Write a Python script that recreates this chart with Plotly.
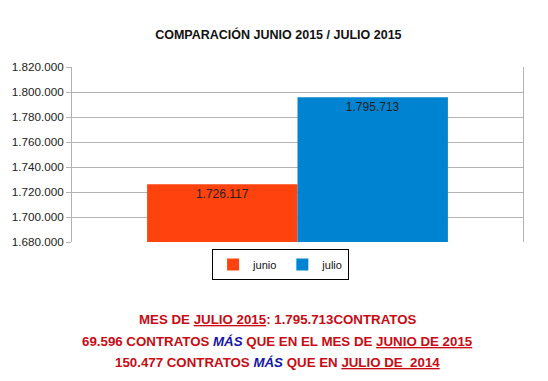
import plotly.graph_objects as go

series_names = ["junio", "julio"]
series_values = [1726117, 1795713]
series_labels = ["1.726.117", "1.795.713"]
series_colors = ["#ff420e", "#0084d1"]
category = [""]
y_ticks = [1680000, 1700000, 1720000, 1740000, 1760000, 1780000, 1800000, 1820000]

title_text = "<b>COMPARACIÓN JUNIO 2015 / JULIO 2015</b>"
red = "#c80a14"
blue = "#1414a8"
footer_lines = [
    "<b>MES DE <u>JULIO 2015</u>: 1.795.713CONTRATOS</b>",
    "<b>69.596 CONTRATOS <i><span style='color:%s'>MÁS</span></i> QUE EN EL MES DE <u>JUNIO DE 2015</u></b>" % blue,
    "<b>150.477 CONTRATOS <i><span style='color:%s'>MÁS</span></i> QUE EN <u>JULIO DE  2014</u></b>" % blue,
]

fig = go.Figure()
for name, val, lab, col in zip(series_names, series_values, series_labels, series_colors):
    fig.add_trace(go.Bar(
        x=category, y=[val], name=name, marker=dict(color=col, line=dict(width=0)),
        text=[lab], textposition="inside", insidetextanchor="end",
        textfont=dict(family="Liberation Sans, Arial, sans-serif", size=12, color="#222222"),
        textangle=0,
    ))

fig.update_layout(
    width=548, height=381,
    margin=dict(l=70, r=25, t=67, b=139),
    paper_bgcolor="white", plot_bgcolor="white",
    barmode="group", bargap=0.333, bargroupgap=0,
    separators=",.",
    font=dict(family="Liberation Sans, Arial, sans-serif", size=11, color="#222222"),
    title=dict(text=title_text, x=0.508, xanchor="center", y=0.91, yanchor="middle",
               font=dict(family="Liberation Sans Narrow, Liberation Sans, Arial, sans-serif", size=12.5, color="#111111")),
    showlegend=True,
    legend=dict(orientation="h", x=0.4625, xanchor="center", y=-0.04, yanchor="top",
                bordercolor="#000000", borderwidth=1, bgcolor="white",
                font=dict(size=11, color="#111111"), itemwidth=30,
                traceorder="normal", itemclick=False, itemdoubleclick=False),
)
fig.update_xaxes(showticklabels=False, showgrid=False, zeroline=False, showline=False, ticks="")
fig.update_yaxes(range=[1680000, 1820000], tickvals=y_ticks, tickformat=",d",
                 showgrid=True, gridcolor="#b3b3b3", gridwidth=1,
                 showline=True, linecolor="#b3b3b3", linewidth=1, mirror=True,
                 ticks="outside", ticklen=5, tickcolor="#b3b3b3",
                 zeroline=False, tickfont=dict(size=11.7, color="#222222"))

footer_y = [319, 341, 362]
for txt, yy in zip(footer_lines, footer_y):
    fig.add_annotation(text=txt, xref="paper", yref="paper", x=0.456, xanchor="center",
                       y=-(yy - 242) / 175, yanchor="middle", showarrow=False,
                       font=dict(family="Liberation Sans, Arial, sans-serif", size=13.3, color=red))

fig.write_html("out.html", config={"displayModeBar": False},
               post_script="document.body.style.margin='0';document.body.style.padding='0';")
